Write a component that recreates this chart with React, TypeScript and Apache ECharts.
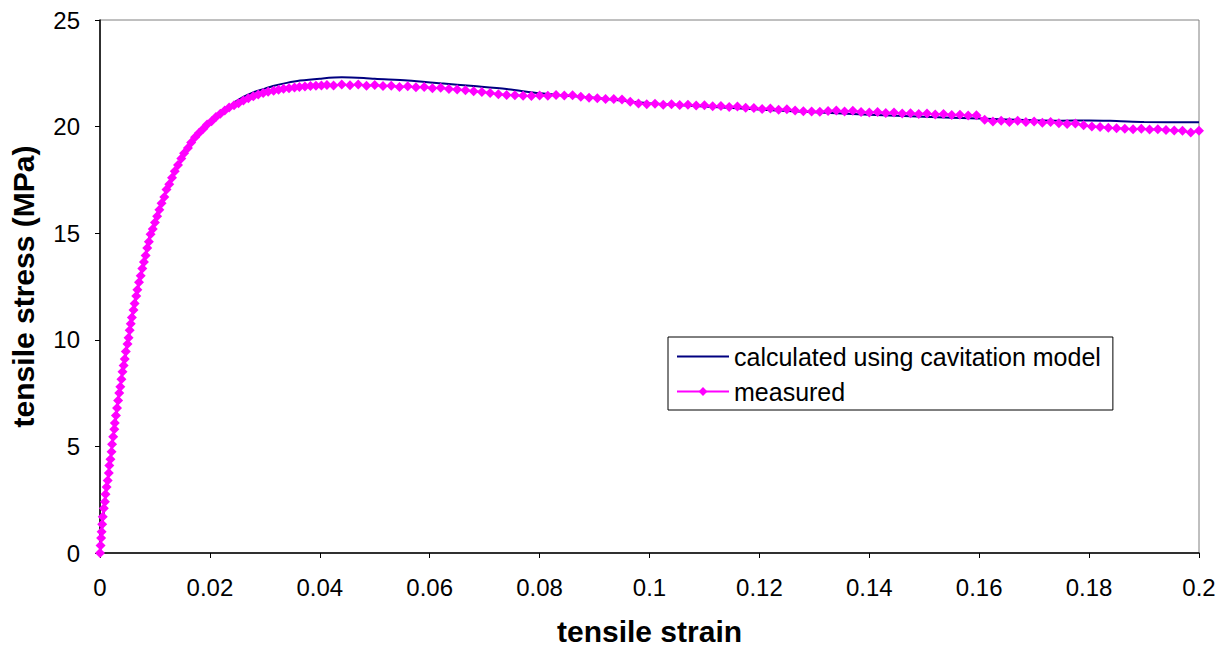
import React, { useEffect, useRef } from "react";
import * as echarts from "echarts";

const FONT = "'Liberation Sans', Arial, Helvetica, sans-serif";

const seriesNames = ["calculated using cavitation model", "measured"];
const xTitle = "tensile strain";
const yTitle = "tensile stress (MPa)";

// calculated using cavitation model: [strain, stress]
const calculated: [number, number][] = [
  [0, 0], [0.001, 2.7], [0.002, 4.55], [0.003, 6.55], [0.004, 8.3], [0.005, 9.75],
  [0.006, 11.2], [0.007, 12.55], [0.008, 13.7], [0.009, 14.8], [0.01, 15.6],
  [0.012, 16.95], [0.014, 18.05], [0.016, 18.95], [0.018, 19.65], [0.02, 20.15],
  [0.022, 20.6], [0.024, 21.05], [0.026, 21.38], [0.028, 21.62], [0.03, 21.78],
  [0.0315, 21.9], [0.034, 22.05], [0.0364, 22.16], [0.04, 22.25], [0.044, 22.31],
  [0.048, 22.28], [0.05, 22.24], [0.056, 22.16], [0.062, 22.03], [0.068, 21.9],
  [0.074, 21.76], [0.08, 21.56], [0.085, 21.45], [0.09, 21.35], [0.097, 21.17],
  [0.1, 21.1], [0.11, 20.94], [0.12, 20.8], [0.13, 20.67], [0.14, 20.56],
  [0.15, 20.46], [0.16, 20.38], [0.17, 20.3], [0.175, 20.28], [0.18, 20.29],
  [0.185, 20.26], [0.19, 20.22], [0.2, 20.2],
];

// measured: [strain, stress]
const measured: [number, number][] = [
  [0, 0], [0.0001, 0.35], [0.0002, 0.7], [0.0003, 1.0], [0.0004, 1.35], [0.0005, 1.7],
  [0.0007, 2.1], [0.0009, 2.4], [0.001, 2.75], [0.0012, 3.1], [0.0014, 3.4],
  [0.0016, 3.75], [0.0017, 4.1], [0.0019, 4.4], [0.0021, 4.75], [0.0022, 5.1],
  [0.0024, 5.45], [0.0026, 5.8], [0.0027, 6.1], [0.0029, 6.45], [0.0031, 6.8],
  [0.0033, 7.15], [0.0035, 7.5], [0.0037, 7.8], [0.0039, 8.15], [0.0041, 8.5],
  [0.0043, 8.8], [0.0045, 9.1], [0.0047, 9.45], [0.005, 9.8], [0.0052, 10.1],
  [0.0054, 10.45], [0.0056, 10.75], [0.0058, 11.05], [0.0061, 11.4], [0.0063, 11.7],
  [0.0066, 12.05], [0.0068, 12.35], [0.0071, 12.7], [0.0074, 13.0], [0.0077, 13.35],
  [0.008, 13.65], [0.0083, 13.95], [0.0086, 14.3], [0.0089, 14.6], [0.0092, 14.95],
  [0.0096, 15.2], [0.01, 15.5], [0.0104, 15.8], [0.0108, 16.1], [0.0112, 16.4],
  [0.0117, 16.7], [0.0121, 17.05], [0.0126, 17.3], [0.0131, 17.6], [0.0136, 17.9],
  [0.0142, 18.2], [0.0148, 18.5], [0.0153, 18.75], [0.016, 19.0], [0.0166, 19.25],
  [0.0173, 19.5], [0.018, 19.7], [0.0188, 19.9], [0.0195, 20.1], [0.0203, 20.25],
  [0.0211, 20.45], [0.0219, 20.6], [0.0227, 20.75], [0.0235, 20.9], [0.0244, 21.0],
  [0.0252, 21.1], [0.0261, 21.22], [0.027, 21.33], [0.0279, 21.42], [0.0288, 21.5],
  [0.0297, 21.58], [0.0306, 21.63], [0.0316, 21.68], [0.0325, 21.73], [0.0334, 21.78],
  [0.0344, 21.8], [0.0354, 21.83], [0.0363, 21.86], [0.0373, 21.88], [0.0383, 21.9],
  [0.0393, 21.92], [0.0403, 21.93], [0.0413, 21.95], [0.0425, 21.93], [0.044, 21.97],
  [0.0455, 21.94], [0.047, 21.98], [0.0485, 21.92], [0.05, 21.95], [0.0515, 21.9],
  [0.053, 21.92], [0.0545, 21.86], [0.056, 21.89], [0.0575, 21.84], [0.059, 21.86],
  [0.0605, 21.8], [0.062, 21.82], [0.0635, 21.76], [0.065, 21.74], [0.0665, 21.7],
  [0.068, 21.66], [0.0695, 21.62], [0.071, 21.58], [0.0725, 21.52], [0.074, 21.48],
  [0.0755, 21.47], [0.077, 21.45], [0.0785, 21.44], [0.08, 21.46], [0.0815, 21.45],
  [0.083, 21.48], [0.0845, 21.46], [0.086, 21.47], [0.0875, 21.4], [0.089, 21.35],
  [0.0905, 21.33], [0.092, 21.3], [0.0935, 21.29], [0.095, 21.27], [0.0965, 21.17],
  [0.098, 21.08], [0.0995, 21.05], [0.101, 21.07], [0.1025, 21.03], [0.104, 21.05],
  [0.1055, 21.01], [0.107, 21.03], [0.1085, 20.99], [0.11, 21.0], [0.1115, 20.95],
  [0.113, 20.97], [0.1145, 20.92], [0.116, 20.94], [0.1175, 20.89], [0.119, 20.87],
  [0.1205, 20.83], [0.122, 20.85], [0.1235, 20.79], [0.125, 20.81], [0.1265, 20.76],
  [0.128, 20.72], [0.1295, 20.71], [0.131, 20.7], [0.1325, 20.73], [0.134, 20.76],
  [0.1355, 20.71], [0.137, 20.74], [0.1385, 20.68], [0.14, 20.66], [0.1415, 20.69],
  [0.143, 20.64], [0.1445, 20.66], [0.146, 20.61], [0.1475, 20.63], [0.149, 20.59],
  [0.1505, 20.61], [0.152, 20.57], [0.1535, 20.59], [0.155, 20.54], [0.1565, 20.56],
  [0.158, 20.52], [0.1595, 20.53], [0.161, 20.32], [0.1625, 20.24], [0.164, 20.28],
  [0.1655, 20.22], [0.167, 20.27], [0.1685, 20.21], [0.17, 20.24], [0.1715, 20.18],
  [0.173, 20.22], [0.1745, 20.16], [0.176, 20.12], [0.1775, 20.14], [0.179, 20.06],
  [0.1805, 20.0], [0.182, 19.98], [0.1835, 19.95], [0.185, 19.92], [0.1865, 19.9],
  [0.188, 19.88], [0.1895, 19.9], [0.191, 19.86], [0.1925, 19.88], [0.194, 19.84],
  [0.1955, 19.82], [0.197, 19.8], [0.1985, 19.72], [0.2, 19.8],
];

const xMin = 0, xMax = 0.2, xStep = 0.02;
const yMin = 0, yMax = 25, yStep = 5;

export default function App() {
  const ref = useRef<HTMLDivElement>(null);
  useEffect(() => {
    if (!ref.current) return;
    const chart = echarts.init(ref.current, null, { renderer: "svg" });
    chart.setOption({
      animation: false,
      backgroundColor: "#ffffff",
      grid: {
        left: 100, right: 30, top: 20, bottom: 98,
        show: true, borderColor: "#808080", borderWidth: 1,
      },
      legend: {
        orient: "vertical",
        left: 668, top: 337,
        data: [
          { name: seriesNames[0], itemStyle: { opacity: 0 } },
          { name: seriesNames[1] },
        ],
        itemWidth: 52, itemHeight: 11, itemGap: 10,
        padding: [7, 12, 6, 8],
        borderColor: "#000", borderWidth: 1, borderRadius: 0,
        backgroundColor: "#fff",
        textStyle: { fontFamily: FONT, fontSize: 25, color: "#000", padding: [0, 0, 0, 0] },
      },
      xAxis: {
        type: "value", min: xMin, max: xMax, interval: xStep,
        name: xTitle, nameLocation: "middle", nameGap: 63,
        nameTextStyle: { fontFamily: FONT, fontSize: 30, fontWeight: "bold", color: "#000" },
        axisLine: { show: true, lineStyle: { color: "#000", width: 1.5 } },
        axisTick: { show: true, inside: false, length: 5, lineStyle: { color: "#000" } },
        axisLabel: {
          fontFamily: FONT, fontSize: 24, color: "#000", margin: 22,
          formatter: (v: number) => String(+v.toFixed(2)),
        },
        splitLine: { show: false },
      },
      yAxis: {
        type: "value", min: yMin, max: yMax, interval: yStep,
        name: yTitle, nameLocation: "middle", nameGap: 62, nameRotate: 90,
        nameTextStyle: { fontFamily: FONT, fontSize: 30, fontWeight: "bold", color: "#000" },
        axisLine: { show: true, lineStyle: { color: "#000", width: 1.5 } },
        axisTick: { show: true, inside: false, length: 5, lineStyle: { color: "#000" } },
        axisLabel: { fontFamily: FONT, fontSize: 24, color: "#000", margin: 20 },
        splitLine: { show: false },
      },
      series: [
        {
          name: seriesNames[0], type: "line", data: calculated,
          smooth: 0.3, showSymbol: false, symbol: "none",
          lineStyle: { color: "#000080", width: 2 },
          itemStyle: { color: "#000080" },
          z: 2,
        },
        {
          name: seriesNames[1], type: "line", data: measured,
          symbol: "diamond", symbolSize: 10, showSymbol: true,
          lineStyle: { color: "#FF00FF", width: 2 },
          itemStyle: { color: "#FF00FF", borderWidth: 0 },
          z: 3,
        },
      ],
    });
    return () => chart.dispose();
  }, []);
  return (
    <div
      ref={ref}
      style={{ position: "fixed", left: 0, top: 0, width: 1229, height: 651, background: "#fff" }}
    />
  );
}
